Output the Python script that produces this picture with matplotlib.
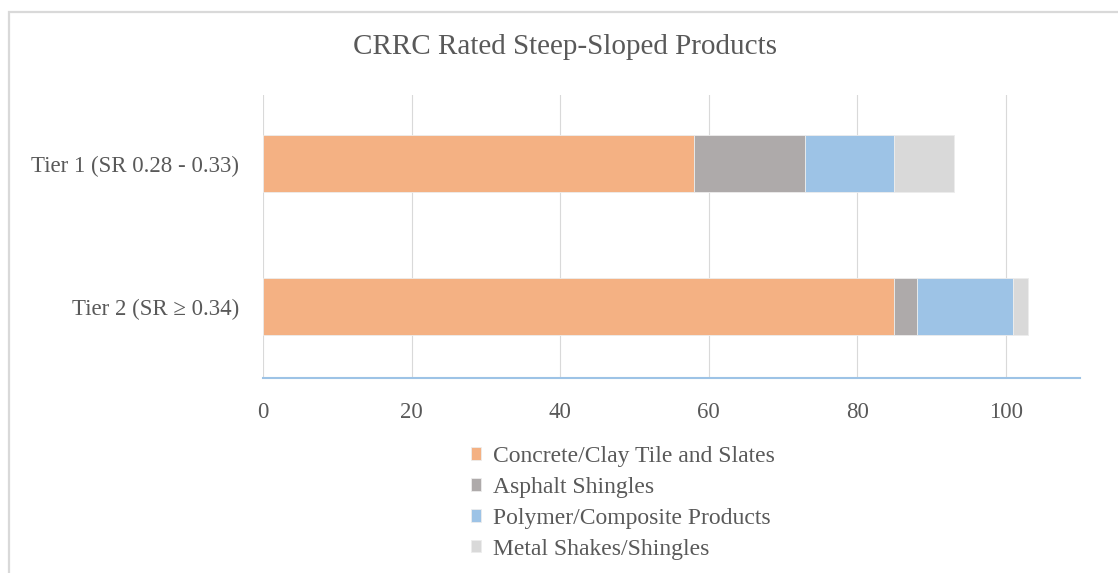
import matplotlib
matplotlib.use("Agg")
import matplotlib.pyplot as plt
from matplotlib.patches import Rectangle

categories = ["Tier 1 (SR 0.28 - 0.33)", "Tier 2 (SR \u2265 0.34)"]
series_names = ["Concrete/Clay Tile and Slates", "Asphalt Shingles",
                "Polymer/Composite Products", "Metal Shakes/Shingles"]
concrete = [58, 85]
asphalt = [15, 3]
polymer = [12, 13]
metal = [8, 2]
colors = ["#F4B183", "#AEAAAA", "#9DC3E6", "#D9D9D9"]

TEXT = "#595959"
plt.rcParams["font.family"] = ["Liberation Serif", "DejaVu Serif"]

fig = plt.figure(figsize=(11.18, 5.73), dpi=100)
ax = fig.add_axes([263 / 1118, 1 - 378 / 573, (1080 - 263) / 1118, (378 - 95) / 573])

ypos = list(range(len(categories)))
left = [0] * len(categories)
for name, vals, c in zip(series_names, [concrete, asphalt, polymer, metal], colors):
    ax.barh(ypos, vals, left=left, height=0.4, color=c, label=name,
            edgecolor="#EDEDED", linewidth=0.6, zorder=2)
    left = [l + v for l, v in zip(left, vals)]

ax.set_xlim(0, 110)
ax.set_ylim(1.5, -0.48)
ax.set_xticks(range(0, 101, 20))
ax.set_yticks(ypos)
ax.set_yticklabels(categories)
ax.tick_params(axis="both", length=0, labelsize=16.5, colors=TEXT)
ax.tick_params(axis="x", pad=17)
ax.tick_params(axis="y", pad=17)
for s in ["top", "right", "left"]:
    ax.spines[s].set_visible(False)
ax.spines["bottom"].set_color("#9DC3E6")
ax.spines["bottom"].set_linewidth(1.5)
ax.grid(axis="x", color="#D9D9D9", linewidth=0.8, zorder=0)
ax.set_axisbelow(True)

fig.text(565 / 1118, 1 - 47 / 573, "CRRC Rated Steep-Sloped Products",
         ha="center", va="center", fontsize=21, color=TEXT)

leg = fig.legend(loc="upper left", bbox_to_anchor=(459 / 1118, 1 - 434 / 573),
                 frameon=False, fontsize=17, handlelength=0.45, handleheight=0.45,
                 handletextpad=0.5, labelspacing=0.42, borderpad=0)
for t in leg.get_texts():
    t.set_color(TEXT)

fig.patches.append(Rectangle((9 / 1118, -0.1), 1.2, 1 - 12 / 573 + 0.1,
                             transform=fig.transFigure, fill=False,
                             edgecolor="#D9D9D9", linewidth=1.6))

fig.savefig("out.png", dpi=100, facecolor="white")
